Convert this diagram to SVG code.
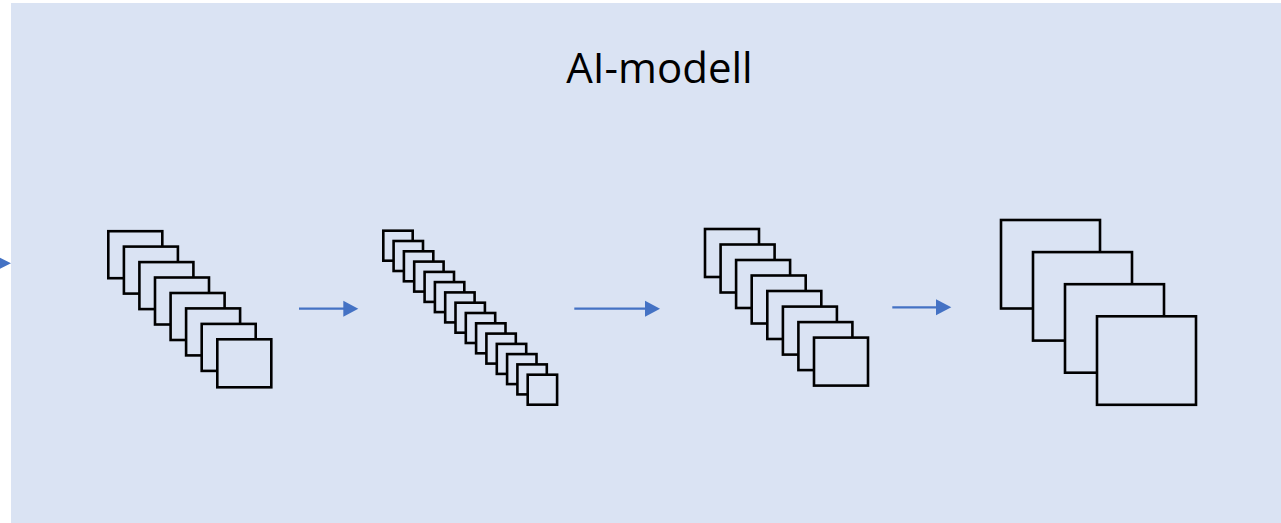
<svg xmlns="http://www.w3.org/2000/svg" width="1281" height="523" viewBox="0 0 1281 523">
<defs>
<style>
.bg{fill:#DAE3F3}
.sq{fill:#DAE3F3;stroke:#000;stroke-width:2.6}
.ar{stroke:#4472C4;stroke-width:2.2;fill:none}
.hd{fill:#4472C4}
.t{font-family:"Open Sans","Noto Sans",sans-serif;font-size:42px;fill:#000}
</style>
</defs>
<rect width="1281" height="523" fill="#fff"/>
<rect class="bg" x="11" y="3" width="1270" height="520"/>
<text class="t" x="659.5" y="83" text-anchor="middle">AI-modell</text>
<g id="stack1">
<rect class="sq" x="108.3" y="231.2" width="54" height="47"/>
<rect class="sq" x="123.9" y="246.6" width="54" height="47"/>
<rect class="sq" x="139.4" y="262.1" width="54" height="47"/>
<rect class="sq" x="155" y="277.5" width="54" height="47"/>
<rect class="sq" x="170.6" y="293" width="54" height="47"/>
<rect class="sq" x="186.1" y="308.4" width="54" height="47"/>
<rect class="sq" x="201.7" y="323.9" width="54" height="47"/>
<rect class="sq" x="217.3" y="339.3" width="54" height="48"/>
</g>
<g id="stack2">
<rect class="sq" x="383.3" y="230.7" width="29.4" height="30"/>
<rect class="sq" x="393.6" y="241" width="29.4" height="30"/>
<rect class="sq" x="403.9" y="251.3" width="29.4" height="30"/>
<rect class="sq" x="414.2" y="261.6" width="29.4" height="30"/>
<rect class="sq" x="424.6" y="271.9" width="29.4" height="30"/>
<rect class="sq" x="434.9" y="282.1" width="29.4" height="30"/>
<rect class="sq" x="445.2" y="292.4" width="29.4" height="30"/>
<rect class="sq" x="455.5" y="302.7" width="29.4" height="30"/>
<rect class="sq" x="465.8" y="313" width="29.4" height="30"/>
<rect class="sq" x="476.1" y="323.3" width="29.4" height="30"/>
<rect class="sq" x="486.4" y="333.6" width="29.4" height="30"/>
<rect class="sq" x="496.8" y="343.9" width="29.4" height="30"/>
<rect class="sq" x="507.1" y="354.1" width="29.4" height="30"/>
<rect class="sq" x="517.4" y="364.4" width="29.4" height="30"/>
<rect class="sq" x="527.7" y="374.7" width="29.4" height="30"/>
</g>
<g id="stack3">
<rect class="sq" x="705" y="229" width="54" height="48"/>
<rect class="sq" x="720.6" y="244.5" width="54" height="48"/>
<rect class="sq" x="736.1" y="260" width="54" height="48"/>
<rect class="sq" x="751.7" y="275.5" width="54" height="48"/>
<rect class="sq" x="767.3" y="291" width="54" height="48"/>
<rect class="sq" x="782.9" y="306.6" width="54" height="48"/>
<rect class="sq" x="798.4" y="322.1" width="54" height="48"/>
<rect class="sq" x="814" y="337.6" width="54" height="48"/>
</g>
<g id="stack4">
<rect class="sq" x="1001" y="220" width="99" height="88.5"/>
<rect class="sq" x="1033" y="252.1" width="99" height="88.5"/>
<rect class="sq" x="1065" y="284.2" width="99" height="88.5"/>
<rect class="sq" x="1097" y="316.3" width="99" height="88.5"/>
</g>
<g id="connectors">
<polygon class="hd" points="-5,255.3 11,263.3 -5,271.3"/>
<line class="ar" x1="299" y1="308.7" x2="344" y2="308.7"/>
<polygon class="hd" points="343.3,300.7 358.3,308.7 343.3,316.7"/>
<line class="ar" x1="574.3" y1="308.7" x2="646" y2="308.7"/>
<polygon class="hd" points="645,300.7 660,308.7 645,316.7"/>
<line class="ar" x1="892.3" y1="307.3" x2="937" y2="307.3"/>
<polygon class="hd" points="936,299.3 951.3,307.3 936,315.3"/>
</g>
</svg>
